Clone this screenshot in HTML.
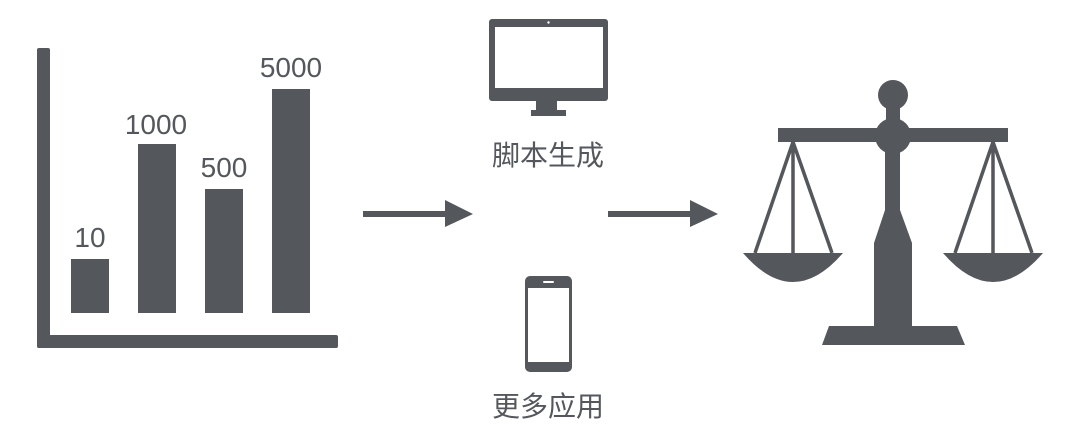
<!DOCTYPE html>
<html><head><meta charset="utf-8"><style>
html,body{margin:0;padding:0;background:#fff;}
</style></head><body>
<svg width="1080" height="439" viewBox="0 0 1080 439" xmlns="http://www.w3.org/2000/svg">
<g fill="#54575c">
<!-- chart -->
<rect x="37" y="48" width="13" height="300" rx="2"/>
<rect x="37" y="335" width="301" height="13" rx="2"/>
<rect x="71" y="259" width="38" height="54"/>
<rect x="138" y="144" width="38" height="169"/>
<rect x="205" y="189" width="38" height="124"/>
<rect x="272" y="89" width="38" height="224"/>
</g>
<g fill="#54575c" font-family="'Liberation Sans','DejaVu Sans',sans-serif" font-size="28" text-anchor="middle">
<text x="90" y="247">10</text>
<text x="156" y="134">1000</text>
<text x="224" y="177">500</text>
<text x="291" y="77">5000</text>
</g>
<!-- arrows -->
<g fill="#54575c">
<rect x="363" y="211" width="84" height="6"/>
<polygon points="445,200 473,214 445,227"/>
<rect x="608" y="211" width="84" height="6"/>
<polygon points="690,200 718,214 690,227"/>
</g>
<!-- monitor -->
<g fill="#54575c">
<rect x="489" y="19" width="119" height="82" rx="3"/>
<rect x="536" y="100" width="21" height="11"/>
<rect x="531" y="110" width="35" height="6"/>
</g>
<rect x="495" y="27" width="108" height="61" fill="#fff"/>
<circle cx="548.5" cy="22.5" r="1.2" fill="#fff"/>
<!-- phone -->
<rect x="525" y="276" width="47" height="96" rx="5" fill="#54575c"/>
<rect x="528" y="288" width="41" height="74" fill="#fff"/>
<rect x="543" y="281" width="11" height="2" rx="1" fill="#fff"/>
<g fill="#54575c" font-family="'Liberation Sans','Noto Sans CJK SC',sans-serif" font-size="28" text-anchor="middle">
<text x="548" y="165">脚本生成</text>
<text x="548" y="416">更多应用</text>
</g>
<!-- scale -->
<g fill="#54575c" stroke="none">
<circle cx="893" cy="95" r="15"/>
<rect x="886" y="100" width="14" height="20"/>
<rect x="778" y="128" width="230" height="14"/>
<circle cx="893" cy="136" r="18"/>
<polygon points="885,142 900,142 900,210 912,243 912,327 874,327 874,243 885,210"/>
<polygon points="829,326 957,326 965,345 822,345"/>
<path d="M743,253 L843,253 Q818,282 793,282 Q768,282 743,253 Z"/>
<path d="M943,253 L1043,253 Q1018,282 993,282 Q968,282 943,253 Z"/>
</g>
<g stroke="#54575c" stroke-width="3.5" fill="none">
<path d="M793,142 L755,253 M793,142 L793,253 M793,142 L832,253"/>
<path d="M993,142 L955,253 M993,142 L993,253 M993,142 L1032,253"/>
</g>
</svg>
</body></html>
